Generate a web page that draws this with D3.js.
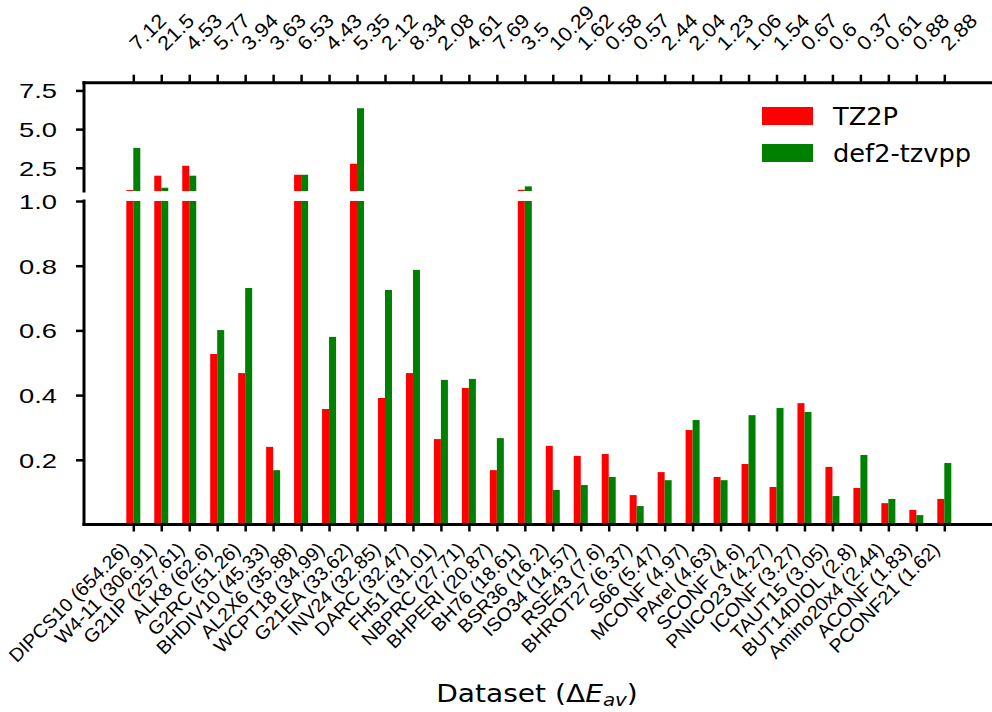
<!DOCTYPE html>
<html>
<head>
<meta charset="utf-8">
<script src="https://cdn.jsdelivr.net/npm/d3@7"></script>
<style>
  body { margin: 0; background: #fff; }
  svg { font-family: "DejaVu Sans", sans-serif; }
  .axis path, .axis line { stroke: #000; }
</style>
</head>
<body>
<script>
const w = 992;
const h = 712;

const datasets = ['DIPCS10 (654.26)','W4-11 (306.91)','G21IP (257.61)','ALK8 (62.6)','G2RC (51.26)',
  'BHDIV10 (45.33)','AL2X6 (35.88)','WCPT18 (34.99)','G21EA (33.62)','INV24 (32.85)','DARC (32.47)',
  'FH51 (31.01)','NBPRC (27.71)','BHPERI (20.87)','BH76 (18.61)','BSR36 (16.2)','ISO34 (14.57)',
  'RSE43 (7.6)','BHROT27 (6.37)','S66 (5.47)','MCONF (4.97)','PArel (4.63)','SCONF (4.6)',
  'PNICO23 (4.27)','ICONF (3.27)','TAUT15 (3.05)','BUT14DIOL (2.8)','Amino20x4 (2.44)','ACONF (1.83)','PCONF21 (1.62)'];

const topLabels = ['7.12','21.5','4.53','5.77','3.94','3.63','6.53','4.43','5.35','2.12','8.34','2.08',
  '4.61','7.69','3.5','10.29','1.62','0.58','0.57','2.44','2.04','1.23','1.06','1.54','0.67','0.6',
  '0.37','0.61','0.88','2.88'];

const tz2p = [1.06,1.99,2.63,0.527,0.468,0.240,2.05,0.357,2.76,0.391,0.468,0.264,0.422,0.168,1.08,
  0.243,0.212,0.218,0.091,0.162,0.292,0.147,0.187,0.116,0.375,0.178,0.113,0.066,0.045,0.079];
const def2 = [3.79,1.21,1.99,0.601,0.731,0.168,2.05,0.580,6.35,0.725,0.787,0.447,0.450,0.267,1.30,
  0.107,0.122,0.147,0.057,0.137,0.323,0.137,0.338,0.360,0.348,0.088,0.215,0.079,0.029,0.190];

const series = [
  {name: 'TZ2P', values: tz2p, color: '#ff0000', off: -1},
  {name: 'def2-tzvpp', values: def2, color: '#008000', off: 0}
];

const left = 84, right = 992;
const x = d3.scaleLinear().domain([0, 29]).range([133.3, 944.3]);
const barW = 7;

// broken axis: two panels
const yBot = d3.scaleLinear().domain([0, 1]).range([524.5, 201]);
const yTop = d3.scaleLinear().domain([1, 8]).range([191, 82.7]);

const svg = d3.select('body').append('svg')
  .attr('width', w)
  .attr('height', h);

// stretch text a bit wider (the reference glyphs are wider than plain DejaVu)
function widen(sel, k) {
  sel.each(function() {
    const len = this.getComputedTextLength();
    d3.select(this).attr('textLength', len * k).attr('lengthAdjust', 'spacingAndGlyphs');
  });
}

svg.append('defs').append('clipPath').attr('id','clipBot')
  .append('rect').attr('x', left).attr('y', yBot(1)).attr('width', right - left).attr('height', yBot(0) - yBot(1));
svg.select('defs').append('clipPath').attr('id','clipTop')
  .append('rect').attr('x', left).attr('y', yTop(8)).attr('width', right - left).attr('height', yTop(1) - yTop(8));

const botG = svg.append('g').attr('clip-path', 'url(#clipBot)');
const topG = svg.append('g').attr('clip-path', 'url(#clipTop)');

series.forEach(s => {
  botG.selectAll(null)
     .data(s.values)
     .enter()
     .append('rect')
     .attr('x', (d, i) => x(i) + s.off * barW)
     .attr('width', barW)
     .attr('y', d => yBot(Math.min(d, 1.2)))
     .attr('height', d => yBot(0) - yBot(Math.min(d, 1.2)))
     .attr('fill', s.color);

  topG.selectAll(null)
     .data(s.values.map((v, i) => ({v, i})).filter(d => d.v > 1))
     .enter()
     .append('rect')
     .attr('x', d => x(d.i) + s.off * barW)
     .attr('width', barW)
     .attr('y', d => yTop(d.v))
     .attr('height', d => yTop(1) - yTop(d.v))
     .attr('fill', s.color);
});

// left axes
const yAxisBot = d3.axisLeft(yBot).tickValues([0.2, 0.4, 0.6, 0.8, 1.0])
  .tickFormat(d3.format('.1f')).tickSize(8).tickPadding(19);
const yAxisTop = d3.axisLeft(yTop).tickValues([2.5, 5.0, 7.5])
  .tickFormat(d3.format('.1f')).tickSize(8).tickPadding(19);

const gyb = svg.append('g').attr('class','axis').attr('transform','translate(' + left + ',0)').call(yAxisBot);
const gyt = svg.append('g').attr('class','axis').attr('transform','translate(' + left + ',0)').call(yAxisTop);

// bottom axis
const xAxisBot = d3.axisBottom(x).tickValues(d3.range(30))
  .tickFormat(i => datasets[i]).tickSize(7);
const gx = svg.append('g').attr('class','axis')
  .attr('transform','translate(0,' + yBot(0) + ')')
  .call(xAxisBot);

// top axis
const xAxisTop = d3.axisTop(x).tickValues(d3.range(30))
  .tickFormat(i => topLabels[i]).tickSize(8);
const gt = svg.append('g').attr('class','axis')
  .attr('transform','translate(0,' + yTop(8) + ')')
  .call(xAxisTop);

svg.selectAll('.axis path.domain').remove();
svg.selectAll('.axis line').attr('stroke-width', 2.5);
svg.selectAll('.axis text').attr('fill', '#000');

gyb.selectAll('text').attr('font-size', 21).attr('dy', '0.36em').call(widen, 1.3);
gyt.selectAll('text').attr('font-size', 21).attr('dy', '0.36em').call(widen, 1.3);

gx.selectAll('text')
  .attr('font-size', 19)
  .attr('text-anchor', 'end')
  .attr('dy', null)
  .attr('y', null)
  .attr('transform', 'translate(-4,26) rotate(-45)')
  .call(widen, 1.03);

gt.selectAll('text')
  .attr('font-size', 20)
  .attr('text-anchor', 'start')
  .attr('dy', null)
  .attr('y', null)
  .attr('transform', 'translate(4,-31) rotate(-45)')
  .call(widen, 1.08);

// spines
const spine = (x1, y1, x2, y2) => svg.append('line')
  .attr('x1', x1).attr('y1', y1).attr('x2', x2).attr('y2', y2)
  .attr('stroke', '#000').attr('stroke-width', 3).attr('stroke-linecap', 'square');
spine(left, yTop(8), left, yTop(1));
spine(left, yTop(8), right, yTop(8));
spine(left, yBot(1), left, yBot(0));
spine(left, yBot(0), right, yBot(0));

// legend
const legend = svg.append('g');
series.forEach((s, i) => {
  legend.append('rect')
    .attr('x', 762).attr('y', 107 + i * 37)
    .attr('width', 51).attr('height', 18)
    .attr('fill', s.color);
  legend.append('text')
    .attr('x', 833).attr('y', 125 + i * 37)
    .attr('font-size', 24)
    .text(s.name)
    .call(widen, 1.07);
});

// x label
const xl = svg.append('text')
  .attr('transform', 'translate(537,702) scale(1.17,1)')
  .attr('text-anchor', 'middle')
  .attr('font-size', 24);
xl.append('tspan').text('Dataset (\u0394');
xl.append('tspan').attr('font-style', 'italic').text('E');
xl.append('tspan').attr('font-style', 'italic').attr('font-size', 17).attr('dy', 4).text('av');
xl.append('tspan').attr('dy', -4).text(')');
</script>
</body>
</html>
